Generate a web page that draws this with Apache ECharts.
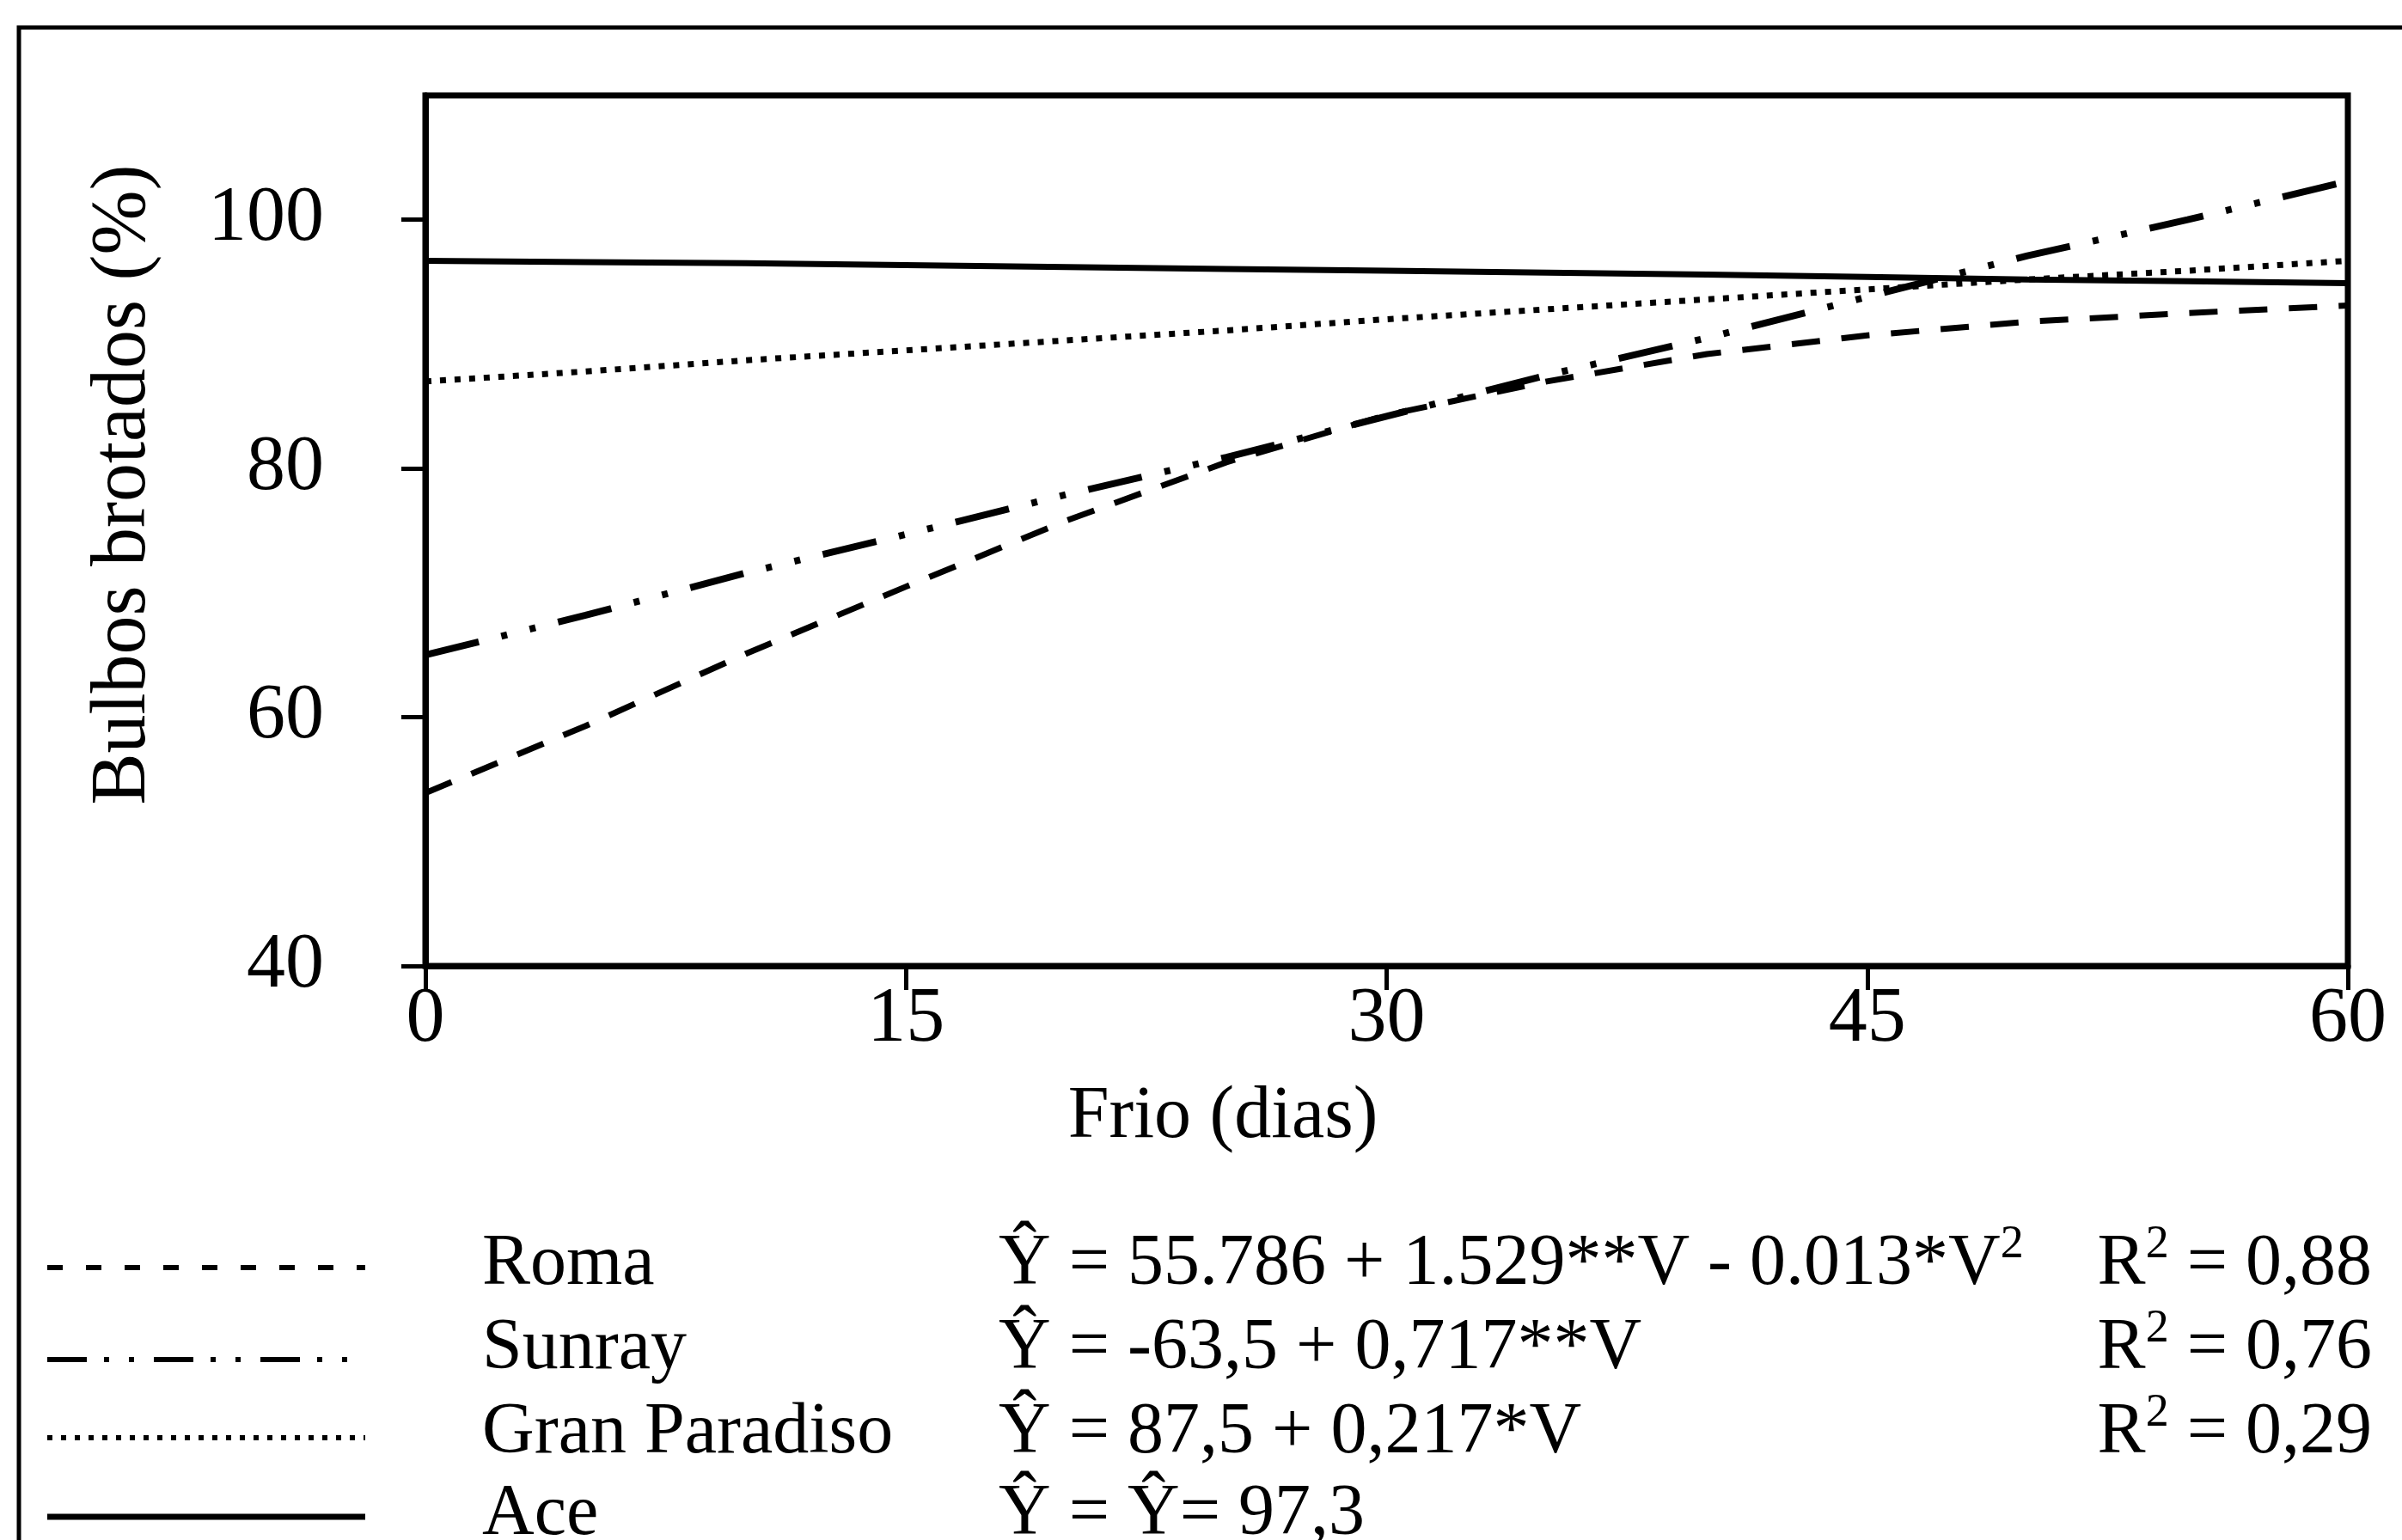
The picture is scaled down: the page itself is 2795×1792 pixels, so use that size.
<!DOCTYPE html>
<html>
<head>
<meta charset="utf-8">
<title>Bulbos brotados</title>
<script src="https://cdn.jsdelivr.net/npm/echarts@6/dist/echarts.min.js"></script>
<style>
  html, body { margin: 0; padding: 0; background: #fff; }
  #chart { width: 2795px; height: 1792px; }
</style>
</head>
<body>
<div id="chart"></div>
<script>
// dias de frio (eixo x)
var days = [0, 5, 10, 15, 20, 25, 30, 35, 40, 45, 50, 55, 60];
// % de bulbos brotados
var roma = [53.9, 59.3, 65.1, 70.5, 75.8, 80.5, 84.3, 87.0, 89.2, 90.7, 91.8, 92.5, 93.1];
var sunray = [65.0, 68.2, 71.6, 74.7, 77.9, 80.9, 84.2, 87.5, 90.5, 93.8, 97.1, 100.0, 103.1];
var granParadiso = [87.0, 87.8, 88.7, 89.5, 90.3, 91.1, 92.0, 92.8, 93.6, 94.4, 95.2, 95.9, 96.7];
var ace = [96.7, 96.6, 96.5, 96.35, 96.2, 96.05, 95.9, 95.75, 95.6, 95.4, 95.2, 95.05, 94.9];

var seriesNames = ["Roma", "Sunray", "Gran Paradiso", "Ace"];
// {sup|2} = expoente
var equations = [
  "Ŷ = 55.786 + 1.529**V - 0.013*V{sup|2}",
  "Ŷ = -63,5 + 0,717**V",
  "Ŷ = 87,5 + 0,217*V",
  "Ŷ = Ŷ= 97,3"
];
var r2Labels = ["R{sup|2} = 0,88", "R{sup|2} = 0,76", "R{sup|2} = 0,29", ""];

var xTicks = [0, 15, 30, 45, 60];
var yTicks = [40, 60, 80, 100];

var FONT = '"Liberation Serif", "Times New Roman", serif';

function pairs(ys) {
  return days.map(function(d, i) {
    return [d, ys[i]];
  });
}

// estilos de traço (plot e legenda)
var dashes = [
  { plot: [33, 25], width: 7, legend: [18, 27] },
  { plot: [64, 27, 7, 27, 7, 27], width: 8, legend: [46, 20, 6, 23, 6, 23] },
  { plot: [7, 10], width: 7, legend: [6, 10] },
  { plot: null, width: 7, legend: null }
];
var seriesData = [roma, sunray, granParadiso, ace];

var chart = echarts.init(document.getElementById("chart"), null, {
  renderer: "canvas"
});

var series = seriesData.map(function(ys, i) {
  return {
    name: seriesNames[i],
    type: "line",
    data: pairs(ys),
    symbol: "none",
    smooth: false,
    lineStyle: {
      color: "#000",
      width: dashes[i].width,
      type: dashes[i].plot ? dashes[i].plot : "solid"
    },
    z: 3
  };
});

var legendText = {
  fontFamily: FONT,
  fontSize: 84,
  lineHeight: 100,
  fill: "#000",
  verticalAlign: "middle",
  rich: {
    sup: {
      fontFamily: FONT,
      fontSize: 54,
      lineHeight: 54,
      verticalAlign: "top",
      fill: "#000"
    }
  }
};

function textStyle(text, align) {
  return Object.assign({}, legendText, { text: text, align: align });
}

// legenda desenhada à mão
var rowText = [1472, 1570, 1668, 1763];
var rowLine = [1475, 1582, 1673, 1765];
var graphics = [];

graphics.push({
  type: "rect",
  shape: { x: 22, y: 32, width: 3200, height: 3000 },
  style: { fill: "none", stroke: "#000", lineWidth: 5 },
  silent: true,
  z: 0
});

graphics.push({
  type: "text",
  x: 144,
  y: 564,
  rotation: Math.PI / 2,
  style: {
    text: "Bulbos brotados (%)",
    fontFamily: FONT,
    fontSize: 90,
    fill: "#000",
    align: "center",
    verticalAlign: "middle"
  }
});

graphics.push({
  type: "text",
  x: 1423,
  y: 1300,
  style: {
    text: "Frio (dias)",
    fontFamily: FONT,
    fontSize: 86,
    fill: "#000",
    align: "center",
    verticalAlign: "middle"
  }
});

seriesNames.forEach(function(name, i) {
  graphics.push({
    type: "line",
    shape: { x1: 55, y1: rowLine[i], x2: 425, y2: rowLine[i] },
    style: {
      stroke: "#000",
      lineWidth: i === 3 ? 7 : 6,
      lineDash: dashes[i].legend
    }
  });
  graphics.push({ type: "text", x: 561, y: rowText[i], style: textStyle(name, "left") });
  graphics.push({ type: "text", x: 1162, y: rowText[i], style: textStyle(equations[i], "left") });
  if (r2Labels[i]) {
    graphics.push({ type: "text", x: 2760, y: rowText[i], style: textStyle(r2Labels[i], "right") });
  }
});

var option = {
  animation: false,
  backgroundColor: "#fff",
  grid: {
    left: 495,
    right: 63,
    top: 111,
    bottom: 668,
    show: true,
    borderColor: "#000",
    borderWidth: 7,
    containLabel: false
  },
  xAxis: {
    type: "value",
    min: 0,
    max: 60,
    interval: 15,
    axisLine: { show: true, lineStyle: { color: "#000", width: 7 } },
    axisTick: {
      show: true,
      inside: false,
      length: 28,
      lineStyle: { color: "#000", width: 5 },
      customValues: xTicks
    },
    axisLabel: {
      margin: 18,
      color: "#000",
      fontFamily: FONT,
      fontSize: 90,
      customValues: xTicks
    },
    splitLine: { show: false }
  },
  yAxis: {
    type: "value",
    min: 40,
    max: 110,
    interval: 20,
    axisLine: { show: true, lineStyle: { color: "#000", width: 7 } },
    axisTick: {
      show: true,
      inside: false,
      length: 28,
      lineStyle: { color: "#000", width: 5 },
      customValues: yTicks
    },
    axisLabel: {
      margin: 118,
      color: "#000",
      fontFamily: FONT,
      fontSize: 90,
      customValues: yTicks
    },
    splitLine: { show: false }
  },
  graphic: graphics,
  series: series
};

chart.setOption(option);
</script>
</body>
</html>
